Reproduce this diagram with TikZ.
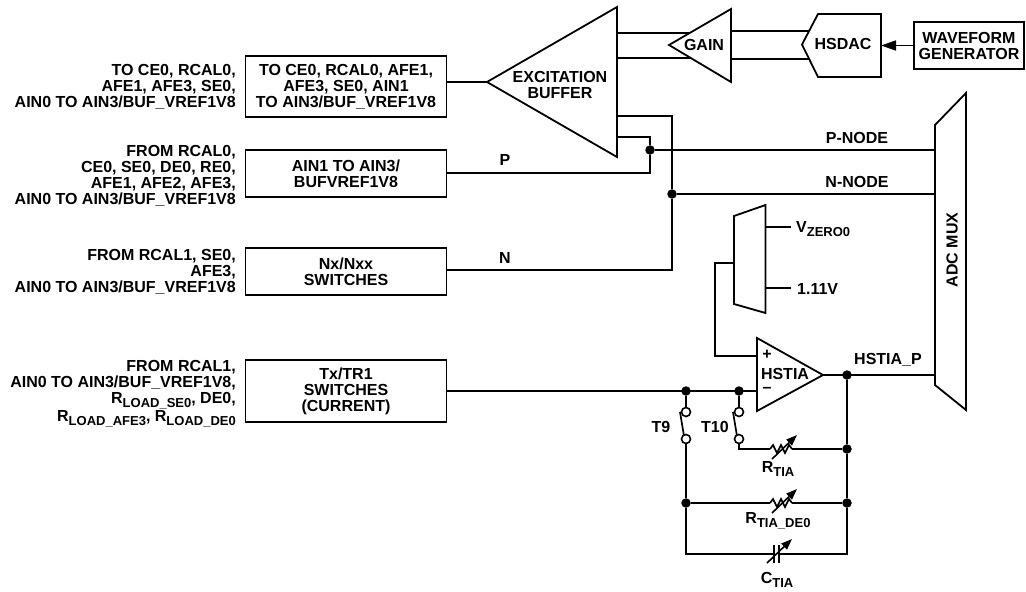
\documentclass[tikz,border=0pt]{standalone}
\usepackage{fontspec}
\setmainfont{Liberation Sans}
\usepackage{tikz}
\usetikzlibrary{arrows.meta,positioning,calc}
\newcommand{\lowtxt}[1]{\raisebox{-3.5pt}{\fontsize{13}{13}\selectfont #1}}
\tikzset{
    every picture/.style={line cap=butt,line join=miter},
    blockbox/.style={draw=black,fill=white,line width=1.9pt,inner sep=0pt,
      font=\fontsize{16}{16}\selectfont\bfseries,align=center},
    ampshape/.style={draw=black,fill=white,line width=1.8pt},
    wire/.style={draw=black,line width=1.7pt},
    sigarrow/.style={wire,-{Triangle[length=15pt,width=10pt]}},
    tagtext/.style={inner sep=0pt,font=\fontsize{16}{16}\selectfont\bfseries,align=center},
    sidetext/.style={tagtext,anchor=east,align=right},
    junction/.style={circle,fill=black,minimum size=9.5pt,inner sep=0pt},
    contact/.style={circle,draw=black,fill=white,line width=1.6pt,minimum size=9pt,inner sep=0pt},
    tuneline/.style={line width=1.6pt,-{Triangle[length=11pt,width=8pt]}},
    varres/.pic={
      \draw[wire] (0,0)--(3,-4)--(7,4)--(11,-4)--(15,4)--(19,-4)--(22,0);
      \draw[tuneline] (2,10)--(27,-14);
    }
}
\begin{document}
\begin{tikzpicture}[x=1pt,y=-1pt]
  \useasboundingbox (0,0) rectangle (1026,592);
  % left labels
  \node[sidetext] (toa) at (236,87) {TO CE0, RCAL0,\\AFE1, AFE3, SE0,\\AIN0 TO AIN3/BUF\_VREF1V8};
  \node[sidetext] (fromb) at (236,176) {FROM RCAL0,\\CE0, SE0, DE0, RE0,\\AFE1, AFE2, AFE3,\\AIN0 TO AIN3/BUF\_VREF1V8};
  \node[sidetext] (fromc) at (236,271.5) {FROM RCAL1, SE0,\\AFE3,\\AIN0 TO AIN3/BUF\_VREF1V8};
  \node[sidetext] (fromd) at (236,393.5) {FROM RCAL1,\\AIN0 TO AIN3/BUF\_VREF1V8,\\R\lowtxt{LOAD\_SE0}, DE0,\\[1pt]R\lowtxt{LOAD\_AFE3}, R\lowtxt{LOAD\_DE0}};
  % boxes
  \node[blockbox,minimum width=201pt,minimum height=61pt] (ctoa) at (346,86.5) {TO CE0, RCAL0, AFE1,\\AFE3, SE0, AIN1\\TO AIN3/BUF\_VREF1V8};
  \node[blockbox,minimum width=201pt,minimum height=47pt] (ainb) at (346,173.5) {AIN1 TO AIN3/\\BUFVREF1V8};
  \node[blockbox,minimum width=201pt,minimum height=47pt] (nsw) at (346,271.5) {Nx/Nxx\\SWITCHES};
  \node[blockbox,minimum width=201pt,minimum height=62pt] (tsw) at (346,391) {Tx/TR1\\SWITCHES\\(CURRENT)};
  \node[blockbox,minimum width=110pt,minimum height=47pt] (wave) at (969,45.5) {WAVEFORM\\GENERATOR};
  % fixed points on the amplifiers
  \coordinate (exa) at (487,82);
  \coordinate (exb) at (617,33);
  \coordinate (exc) at (617,58);
  \coordinate (exd) at (617,116);
  \coordinate (exe) at (617,137);
  \coordinate (gaa) at (690,33);
  \coordinate (gab) at (691,58);
  \coordinate (gac) at (731,31);
  \coordinate (gad) at (731,59);
  \coordinate (daa) at (809,31);
  \coordinate (dab) at (809,59);
  \coordinate (dac) at (881,45.5);
  \coordinate (ainw) at (447,172.7);
  \coordinate (nsww) at (447,270.3);
  \coordinate (adp) at (935,150);
  \coordinate (adn) at (935,194);
  \coordinate (adh) at (935,375);
  \coordinate (hsm) at (757,391);
  \coordinate (hsp) at (757,356);
  \coordinate (hso) at (823,375);
  \coordinate (mxo) at (734,263);
  \coordinate (mxa) at (766,227);
  \coordinate (mxb) at (766,288);
  \coordinate (vza) at (791,227);
  \coordinate (vzb) at (791,288);
  \coordinate (rta) at (770,449);
  \coordinate (rtb) at (792,449);
  \coordinate (rda) at (770,503);
  \coordinate (rdb) at (792,503);
  \coordinate (cta) at (774,554);
  \coordinate (ctb) at (779,554);
  % junctions and contacts
  \node[junction] (jp) at (650,150) {};
  \node[junction] (jn) at (672,194) {};
  \node[junction] (jt) at (686,391) {};
  \node[junction] (ju) at (739,391) {};
  \node[junction] (jh) at (847,375) {};
  \node[junction] (jr) at (847,449) {};
  \node[junction] (jd) at (847,503) {};
  \node[junction] (je) at (686,503) {};
  \node[contact] (sa) at (686,412) {};
  \node[contact] (sb) at (686,439) {};
  \node[contact] (sc) at (739,412) {};
  \node[contact] (sd) at (739,439) {};
  % wires
  \draw[wire] (ctoa.east|-exa)--(exa);
  \draw[wire] (exb)--(gaa);
  \draw[wire] (exc)--(gab);
  \draw[wire] (gac)--(daa);
  \draw[wire] (gad)--(dab);
  \draw[sigarrow] (wave.west)--(dac);
  \draw[wire] (ainw)--(ainw-|jp)--(jp)--(jp|-exe)--(exe);
  \draw[wire] (jp)--(adp);
  \draw[wire] (nsww)--(nsww-|jn)--(jn)--(jn|-exd)--(exd);
  \draw[wire] (jn)--(adn);
  \draw[wire] (tsw.east|-hsm)--(hsm);
  \draw[wire] (hso)--(adh);
  \draw[wire] (mxo)--(715,263)--(715,356)--(hsp);
  \draw[wire] (mxa)--(vza);
  \draw[wire] (mxb)--(vzb);
  \draw[wire] (jt)--(sa);
  \draw[wire] (ju)--(sc);
  \draw[wire] (sb)--(je);
  \draw[wire] (je)--(686,554)--(cta);
  \draw[wire] (ctb)--(847,554)--(jd);
  \draw[wire] (jh)--(jr);
  \draw[wire] (jr)--(jd);
  \draw[wire] (sd)--(739,449)--(rta);
  \draw[wire] (rtb)--(jr);
  \draw[wire] (je)--(rda);
  \draw[wire] (rdb)--(jd);
  \draw[wire] (680,412)--(684,436);
  \draw[wire] (733,412)--(737,436);
  % amplifiers and mux shapes
  \draw[ampshape] (exa)--(617,7)--(617,157)--cycle;
  \draw[ampshape] (669,45)--(731,9)--(731,82)--cycle;
  \draw[ampshape] (802,44.5)--(818,14)--(881,14)--(881,77)--(818,77)--cycle;
  \draw[ampshape] (hso)--(757,338)--(757,411)--cycle;
  \draw[ampshape] (734,216)--(765.5,205)--(765.5,313)--(734,304)--cycle;
  \draw[ampshape] (935,125)--(966,93)--(966,410)--(935,385)--cycle;
  % tunable parts
  \pic at (rta) {varres};
  \pic at (rda) {varres};
  \draw[wire] (774,545)--(774,563);
  \draw[wire] (779,545)--(779,563);
  \draw[tuneline] (767,563)--(792,539);
  % labels
  \node[tagtext] (exl) at (560,85) {EXCITATION\\BUFFER};
  \node[tagtext] (gal) at (704,45) {GAIN};
  \node[tagtext] (dal) at (843,44) {HSDAC};
  \node[tagtext,align=none] (hsl) at (785,374) {HSTIA};
  \node[tagtext] (pl) at (767,355) {+};
  \node[tagtext,align=none,text height=2pt,text depth=0pt] (ml) at (767,391) {--};
  \node[tagtext] (plab) at (505,160) {P};
  \node[tagtext] (nlab) at (505,258) {N};
  \node[tagtext] (pn) at (857,138) {P-NODE};
  \node[tagtext] (nn) at (857,182) {N-NODE};
  \node[tagtext] (hp) at (888,360) {HSTIA\_P};
  \node[tagtext,anchor=west] (vz) at (796,229) {V\lowtxt{ZERO0}};
  \node[tagtext,anchor=west] (vv) at (797,289) {1.11V};
  \node[tagtext,rotate=90] (am) at (952,250) {ADC MUX};
  \node[tagtext] (tn) at (661,427) {T9};
  \node[tagtext] (tt) at (715,427) {T10};
  \node[tagtext] (lr) at (778,469) {R\lowtxt{TIA}};
  \node[tagtext] (ld) at (778,521) {R\lowtxt{TIA\_DE0}};
  \node[tagtext] (lc) at (777,580) {C\lowtxt{TIA}};
\end{tikzpicture}
\end{document}
